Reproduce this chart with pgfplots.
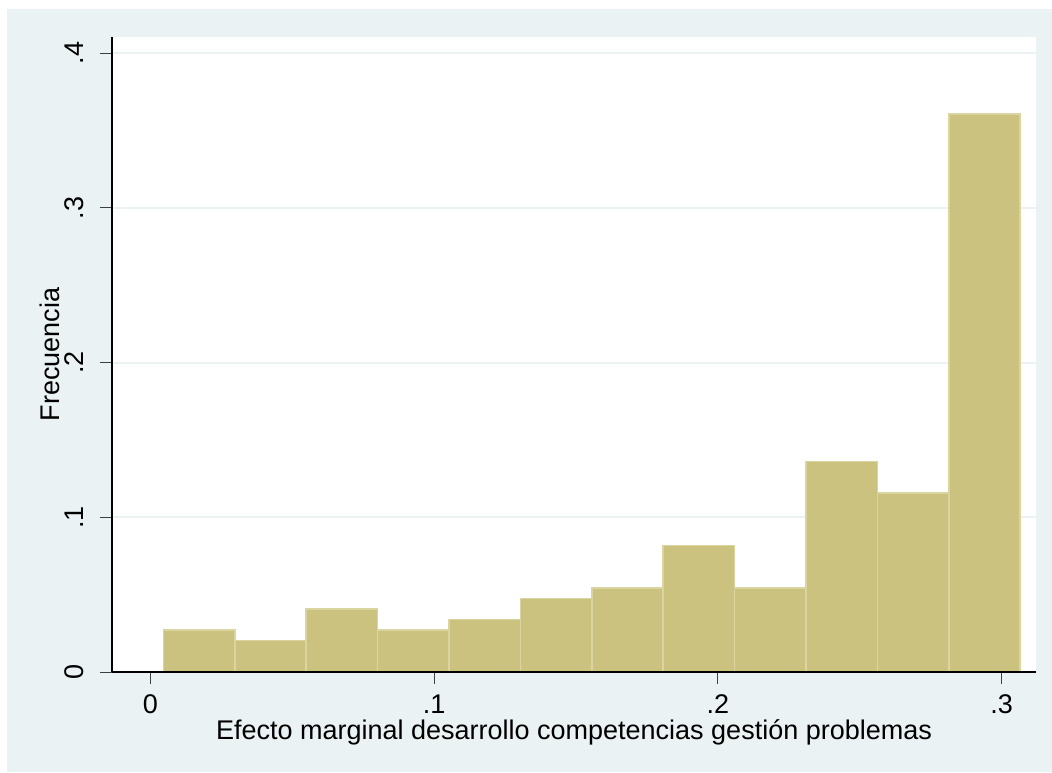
\documentclass[border=0pt]{standalone}
\usepackage{fontspec}
\setmainfont{Liberation Sans}
\usepackage{pgfplots}
\pgfplotsset{compat=1.18}
\definecolor{bgc}{RGB}{234,242,243}
\definecolor{barfill}{RGB}{202,194,126}
\definecolor{barline}{RGB}{218,213,160}
\begin{document}
\begin{tikzpicture}[font=\fontsize{13.5}{16}\selectfont]
\fill[white] (0pt,0pt) rectangle (526pt,386pt);
\fill[bgc] (3.5pt,0pt) rectangle (526pt,381.5pt);
\begin{axis}[
 name=ax,
 at={(56pt,50pt)}, anchor=south west,
 scale only axis, width=462pt, height=317.5pt,
 xmin=-0.0135, xmax=0.31209, ymin=0, ymax=0.41034,
 axis x line*=bottom, axis y line*=left,
 axis line style={black, line width=0.6pt, -},
 axis background/.style={fill=white},
 xtick={0,0.1,0.2,0.3}, xticklabels={0,.1,.2,.3},
 ytick={0,0.1,0.2,0.3,0.4}, yticklabels={0,.1,.2,.3,.4},
 tick align=outside, major tick length=6pt,
 tick style={line width=0.5pt, color=black!75},
 ymajorgrids, grid style={bgc, line width=1pt},
 xticklabel style={anchor=base, inner sep=0pt},
 xticklabel shift=14.5pt,
 yticklabel style={rotate=90, anchor=base, inner sep=0pt},
 yticklabel shift=8pt,
 xlabel={Efecto marginal desarrollo competencias gestión problemas},
 xlabel style={at={(axis description cs:0.5,-0.10551)}, anchor=base, inner sep=0pt},
 ylabel={Frecuencia},
 ylabel style={at={(axis description cs:-0.0563,0.5)}, rotate=0, anchor=base, inner sep=0pt},
]
\addplot[ybar interval, fill=barfill, draw=barline, line width=0.8pt] coordinates {
(0.00458,0.027211)
(0.02974,0.020408)
(0.05490,0.040816)
(0.08006,0.027211)
(0.10522,0.034014)
(0.13038,0.047619)
(0.15554,0.054422)
(0.18070,0.081633)
(0.20586,0.054422)
(0.23102,0.136054)
(0.25618,0.115646)
(0.28134,0.360544)
(0.30650,0.360544)
};
\end{axis}
\draw[black, line width=0.6pt] (ax.south west) -- (ax.south east);
\end{tikzpicture}
\end{document}
